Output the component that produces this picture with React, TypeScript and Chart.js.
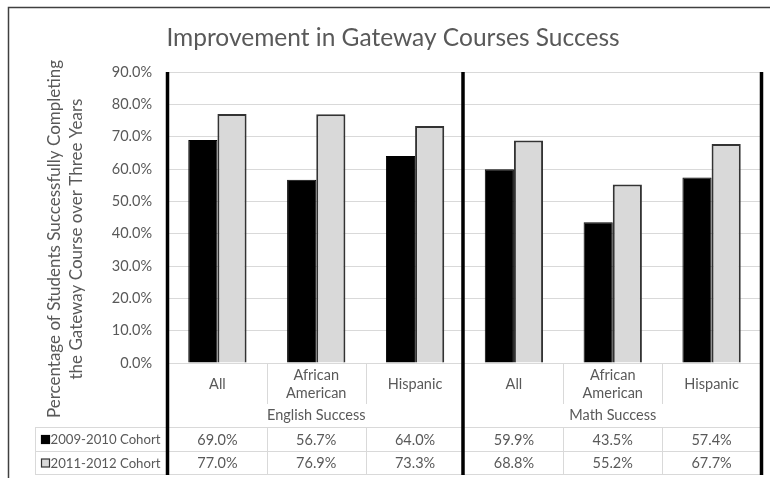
import React, { useEffect, useRef } from "react";
import { Chart, registerables } from "chart.js";

Chart.register(...registerables);

const chartTitle = "Improvement in Gateway Courses Success";
const yAxisTitle = [
  "Percentage of Students Successfully Completing",
  "the Gateway Course over Three Years",
];
const subCategories: string[][] = [
  ["All"],
  ["African", "American"],
  ["Hispanic"],
  ["All"],
  ["African", "American"],
  ["Hispanic"],
];
const groupLabels = ["English Success", "Math Success"];
const groupSizes = [3, 3];
const seriesNames = ["2009-2010 Cohort", "2011-2012 Cohort"];
const cohort2009 = [69.0, 56.7, 64.0, 59.9, 43.5, 57.4];
const cohort2011 = [77.0, 76.9, 73.3, 68.8, 55.2, 67.7];
const yMax = 90;
const yStep = 10;

const FONT = "Lato, 'Open Sans', sans-serif";
const TEXT = "#595959";
const seriesFill = ["#000000", "#d9d9d9"];
const seriesBorder = ["#000000", "#333333"];

const fmt = (v: number) => v.toFixed(1) + "%";

const tablePlugin = {
  id: "excelTable",
  afterDraw(chart: any) {
    const ctx: CanvasRenderingContext2D = chart.ctx;
    const { left, right, top, bottom } = chart.chartArea;
    const xs = chart.scales.x;
    const n = subCategories.length;
    const centers = subCategories.map((_, i) => xs.getPixelForValue(i));
    const bounds: number[] = [left];
    for (let i = 0; i < n - 1; i++) bounds.push((centers[i] + centers[i + 1]) / 2);
    bounds.push(right);

    const catBottom = bottom + 41;
    const rowTop = bottom + 64;
    const rowMid = bottom + 88;
    const rowBot = bottom + 111;
    const legendLeft = 35;

    ctx.save();

    // outer frame
    ctx.strokeStyle = "#404040";
    ctx.lineWidth = 1.5;
    ctx.beginPath();
    ctx.moveTo(8.5, 478);
    ctx.lineTo(8.5, 7.5);
    ctx.lineTo(770, 7.5);
    ctx.stroke();

    // title
    ctx.fillStyle = TEXT;
    ctx.font = `24.5px ${FONT}`;
    ctx.textAlign = "center";
    ctx.textBaseline = "alphabetic";
    ctx.fillText(chartTitle, 393, 46);

    // y axis title (rotated)
    ctx.font = `17px ${FONT}`;
    ctx.textBaseline = "middle";
    const yc = 239;
    const lineXs = [55, 77];
    yAxisTitle.forEach((line, k) => {
      ctx.save();
      ctx.translate(lineXs[k], yc);
      ctx.rotate(-Math.PI / 2);
      ctx.fillText(line, 0, 0);
      ctx.restore();
    });

    // table light lines
    ctx.strokeStyle = "#d9d9d9";
    ctx.lineWidth = 1;
    ctx.beginPath();
    [rowTop, rowMid, rowBot].forEach((y) => {
      ctx.moveTo(legendLeft, y + 0.5);
      ctx.lineTo(right, y + 0.5);
    });
    ctx.moveTo(legendLeft + 0.5, rowTop);
    ctx.lineTo(legendLeft + 0.5, rowBot);
    ctx.moveTo(left, bottom + 0.5);
    ctx.lineTo(right, bottom + 0.5);
    let start = 0;
    const groupStarts: number[] = [];
    groupSizes.forEach((s) => {
      groupStarts.push(start);
      for (let i = start + 1; i < start + s; i++) {
        const x = Math.round(bounds[i]) + 0.5;
        ctx.moveTo(x, bottom);
        ctx.lineTo(x, catBottom);
        ctx.moveTo(x, rowTop);
        ctx.lineTo(x, rowBot);
      }
      start += s;
    });
    ctx.stroke();

    // category labels
    ctx.fillStyle = TEXT;
    ctx.font = `14.5px ${FONT}`;
    ctx.textAlign = "center";
    ctx.textBaseline = "middle";
    subCategories.forEach((lines, i) => {
      const cx = centers[i];
      const cy = bottom + 21;
      const lh = 18;
      lines.forEach((ln, k) => {
        ctx.fillText(ln, cx, cy + (k - (lines.length - 1) / 2) * lh);
      });
    });
    groupLabels.forEach((g, gi) => {
      const s = groupStarts[gi];
      const cx = (bounds[s] + bounds[s + groupSizes[gi]]) / 2;
      ctx.fillText(g, cx, bottom + 52);
    });
    const rowsY = [(rowTop + rowMid) / 2 + 1, (rowMid + rowBot) / 2 + 1];
    [cohort2009, cohort2011].forEach((arr, r) => {
      arr.forEach((v, i) => ctx.fillText(fmt(v), centers[i], rowsY[r]));
    });
    // legend keys
    ctx.textAlign = "left";
    ctx.font = `13.2px ${FONT}`;
    seriesNames.forEach((name, r) => {
      const y = rowsY[r];
      ctx.fillStyle = seriesFill[r];
      ctx.fillRect(41.5, y - 4.5, 8, 8);
      ctx.strokeStyle = seriesBorder[r];
      ctx.lineWidth = 1.2;
      ctx.strokeRect(41.5, y - 4.5, 8, 8);
      ctx.fillStyle = TEXT;
      ctx.fillText(name, 50.5, y);
    });

    // thick separators
    ctx.strokeStyle = "#000000";
    ctx.lineWidth = 3.5;
    ctx.beginPath();
    let acc = 0;
    const thick = [0];
    groupSizes.forEach((s) => {
      acc += s;
      thick.push(acc);
    });
    thick.forEach((bi) => {
      const x = bi === 0 ? bounds[0] - 0.5 : bi === n ? bounds[n] + 0.5 : bounds[bi] - 1.5;
      ctx.moveTo(x, top);
      ctx.lineTo(x, rowBot + 1);
    });
    ctx.stroke();

    ctx.restore();
  },
};

export default function App() {
  const ref = useRef<HTMLCanvasElement>(null);
  useEffect(() => {
    if (!ref.current) return;
    const chart = new Chart(ref.current, {
      type: "bar",
      data: {
        labels: subCategories.map((a) => a.join(" ")),
        datasets: [
          {
            label: seriesNames[0],
            data: cohort2009,
            backgroundColor: seriesFill[0],
            borderColor: seriesBorder[0],
            borderWidth: 1,
            categoryPercentage: 0.59,
            barPercentage: 1,
          },
          {
            label: seriesNames[1],
            data: cohort2011,
            backgroundColor: seriesFill[1],
            borderColor: seriesBorder[1],
            borderWidth: 2,
            categoryPercentage: 0.59,
            barPercentage: 1,
          },
        ],
      },
      options: {
        responsive: false,
        animation: false,
        devicePixelRatio: 1,
        layout: { padding: { left: 0, top: 72, right: 9, bottom: 115 } },
        plugins: {
          legend: { display: false },
          title: { display: false },
          tooltip: { enabled: false },
        },
        scales: {
          x: { display: false },
          y: {
            min: 0,
            max: yMax,
            ticks: {
              stepSize: yStep,
              padding: 16,
              color: TEXT,
              font: { family: FONT, size: 14.5 },
              callback: (v: any) => Number(v).toFixed(1) + "%",
            },
            grid: { color: "#d9d9d9", lineWidth: 1, drawTicks: false },
            border: { display: false },
            afterFit: (scale: any) => {
              scale.width = 168;
            },
          },
        },
      },
      plugins: [tablePlugin],
    });
    return () => chart.destroy();
  }, []);
  return (
    <div style={{ position: "absolute", left: 0, top: 0, width: 770, height: 478, background: "#fff" }}>
      <canvas ref={ref} width={770} height={478} style={{ display: "block" }} />
    </div>
  );
}
